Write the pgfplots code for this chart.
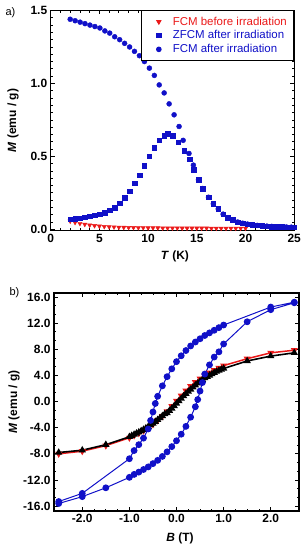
\documentclass[border=0pt]{standalone}
\usepackage{fontspec}
\setmainfont{Liberation Sans}
\usepackage{pgfplots}
\pgfplotsset{compat=1.18}
\definecolor{myblue}{RGB}{16,16,200}
\definecolor{myred}{RGB}{235,25,25}
\newcommand{\labfont}{\fontsize{12}{14}\selectfont\bfseries}
\pgfplotsset{
  common/.style={
    scale only axis,
    axis line style={line width=1.1pt},
    tick align=inside,
    major tick length=4bp,
    minor tick length=2.2bp,
    every tick/.style={black, line width=0.8pt},
    /pgf/number format/assume math mode=true,
    tick label style={font=\labfont},
  }
}
\begin{document}
\begin{tikzpicture}[x=1bp,y=1bp]
\path[use as bounding box] (0,0) rectangle (305,-550);
\node[anchor=west, font=\fontsize{11}{13}\selectfont] at (2,-13) {a)};
\node[anchor=west, font=\fontsize{11}{13}\selectfont] at (6,-293) {b)};
% ---------------- panel a
\begin{axis}[common,
  at={(50.7bp,-230.5bp)}, anchor=south west,
  width=243.5bp, height=220bp,
  xmin=0, xmax=25, ymin=-0.008, ymax=1.5,
  xtick={0,5,10,15,20,25}, ytick={0,0.5,1,1.5},
  minor x tick num=4, minor y tick num=9,
  xticklabel style={/pgf/number format/.cd, fixed, precision=0},
  yticklabel style={/pgf/number format/.cd, fixed, fixed zerofill, precision=1},
  xlabel={\textit{T} (K)}, ylabel={\textit{M} (emu / g)},
  every axis x label/.style={at={(axis description cs:0.51,-0.116)}, anchor=center, font=\labfont},
  every axis y label/.style={at={(axis description cs:-0.155,0.5)}, anchor=center, rotate=90, font=\labfont},
  legend style={at={(1,1)}, anchor=north east, draw=black, line width=0.8pt,
    font=\fontsize{11.5}{13}\selectfont, inner xsep=5bp, inner ysep=4bp,
    row sep=0bp},
  legend image code/.code={\draw[mark repeat=2,mark phase=2,#1,draw=none] plot coordinates {(0bp,0bp) (12bp,0bp) (24bp,0bp)};},
  legend cell align=left,
]
\addlegendimage{mark=triangle*, mark options={rotate=180, fill=myred, draw=myred}, mark size=2.5}
\addlegendentry{\textcolor{myred}{FCM before irradiation}}
\addlegendimage{mark=square*, mark options={fill=myblue, draw=myblue}, mark size=2.2}
\addlegendentry{\textcolor{myblue}{ZFCM after irradiation}}
\addlegendimage{mark=*, mark options={fill=myblue, draw=myblue}, mark size=2.4}
\addlegendentry{\textcolor{myblue}{FCM after irradiation}}
% FCM before irradiation
\addplot[forget plot, only marks, mark=triangle*, mark size=2.5, mark options={rotate=180, fill=myred, draw=myred}] table {
2.0 0.056
2.5 0.047
3.0 0.040
3.5 0.034
4.0 0.029
4.5 0.025
5.0 0.022
5.5 0.019
6.0 0.017
6.5 0.016
7.0 0.014
7.5 0.013
8.0 0.012
8.5 0.012
9.0 0.011
9.5 0.011
10.0 0.010
10.5 0.010
11.0 0.010
11.5 0.009
12.0 0.009
12.5 0.009
13.0 0.009
13.5 0.008
14.0 0.008
14.5 0.008
15.0 0.008
15.5 0.008
16.0 0.008
16.5 0.007
17.0 0.007
17.5 0.007
18.0 0.007
18.5 0.007
19.0 0.007
19.5 0.007
20.0 0.007
};
% FCM after irradiation
\addplot[forget plot, only marks, mark=*, mark size=2.5, mark options={fill=myblue, draw=myblue}] table {
2.00 1.440
2.51 1.430
3.02 1.420
3.52 1.410
4.03 1.400
4.54 1.390
5.05 1.380
5.56 1.360
6.06 1.345
6.57 1.320
7.08 1.300
7.59 1.275
8.10 1.250
8.60 1.220
9.11 1.190
9.62 1.150
10.13 1.105
10.64 1.055
11.14 0.990
11.65 0.935
12.16 0.860
12.67 0.785
13.18 0.705
13.60 0.610
14.20 0.520
14.65 0.440
15.17 0.340
15.60 0.280
16.20 0.220
16.70 0.175
17.20 0.140
17.70 0.104
18.20 0.080
18.70 0.065
19.20 0.050
19.70 0.042
20.20 0.036
20.70 0.031
21.20 0.027
21.70 0.024
22.20 0.022
22.70 0.020
23.20 0.018
23.70 0.017
24.20 0.016
24.70 0.015
};
% ZFCM after irradiation
\addplot[forget plot, only marks, mark=square*, mark size=2.3, mark options={fill=myblue, draw=myblue}] table {
2.00 0.069
2.51 0.072
3.02 0.076
3.52 0.083
4.03 0.090
4.54 0.097
5.05 0.104
5.56 0.115
6.06 0.132
6.57 0.150
7.08 0.180
7.59 0.215
8.10 0.260
8.60 0.315
9.11 0.370
9.62 0.435
10.13 0.500
10.64 0.560
11.14 0.610
11.65 0.640
12.00 0.655
12.55 0.643
13.07 0.597
13.70 0.540
14.27 0.480
14.70 0.410
15.17 0.340
15.60 0.280
16.20 0.220
16.70 0.175
17.20 0.140
17.70 0.104
18.20 0.080
18.70 0.065
19.20 0.050
19.70 0.042
20.20 0.036
20.70 0.031
21.20 0.027
21.70 0.024
22.20 0.022
22.70 0.020
23.20 0.018
23.70 0.017
24.20 0.016
24.70 0.015
25.00 0.014
};
\end{axis}
% ---------------- panel b
\begin{axis}[common,
  at={(54bp,-511bp)}, anchor=south west,
  width=245bp, height=218bp,
  xmin=-2.6, xmax=2.6, ymin=-16.75, ymax=16.6,
  xtick={-2,-1,0,1,2}, ytick={-16,-12,-8,-4,0,4,8,12,16},
  minor x tick num=3, minor y tick num=2,
  xticklabel style={/pgf/number format/.cd, fixed, fixed zerofill, precision=1},
  yticklabel style={/pgf/number format/.cd, fixed, fixed zerofill, precision=1},
  xlabel={\textit{B} (T)}, ylabel={\textit{M} (emu / g)},
  every axis x label/.style={at={(axis description cs:0.514,-0.124)}, anchor=center, font=\labfont},
  every axis y label/.style={at={(axis description cs:-0.163,0.5)}, anchor=center, rotate=90, font=\labfont},
]
% before irradiation (red)
\addplot[myred, line width=1.5pt, mark=triangle*, mark size=2.6, mark options={rotate=180, fill=myred, draw=myred, solid}] table {
-2.5 -8.00
-2.0 -7.60
-1.5 -6.75
-1.0 -5.55
-0.9 -5.20
-0.8 -4.85
-0.7 -4.45
-0.6 -4.00
-0.5 -3.50
-0.4 -2.90
-0.3 -2.25
-0.2 -1.50
-0.1 -0.70
0.0 0.10
0.1 0.90
0.2 1.65
0.3 2.35
0.4 2.95
0.5 3.50
0.6 3.95
0.7 4.40
0.8 4.80
0.9 5.15
1.0 5.50
1.5 6.55
2.0 7.45
2.5 7.85
};
% black
\addplot[black, line width=1.6pt, mark=triangle*, mark size=2.7, mark options={fill=black, draw=black, solid}] table {
-2.5 -7.80
-2.0 -7.45
-1.5 -6.60
-1.0 -5.40
-0.95 -5.22
-0.9 -5.05
-0.85 -4.88
-0.8 -4.70
-0.75 -4.50
-0.7 -4.30
-0.65 -4.08
-0.6 -3.85
-0.55 -3.60
-0.5 -3.35
-0.45 -3.08
-0.4 -2.80
-0.35 -2.50
-0.3 -2.20
-0.25 -1.90
-0.2 -1.75
-0.15 -1.40
-0.1 -1.05
-0.05 -0.68
0.0 -0.30
0.05 0.08
0.1 0.45
0.15 0.83
0.2 1.20
0.25 1.53
0.3 1.85
0.35 2.18
0.4 2.50
0.45 2.80
0.5 3.10
0.55 3.35
0.6 3.60
0.65 3.80
0.7 4.00
0.75 4.20
0.8 4.40
0.85 4.58
0.9 4.75
0.95 4.90
1.0 5.05
1.5 6.20
2.0 6.95
2.5 7.45
};
% after irradiation (blue loop)
\addplot[myblue, line width=1pt, mark=*, mark size=2.9, mark options={fill=myblue, draw=myblue}] table {
2.5 15.20
2.0 14.45
1.0 11.70
0.9 11.30
0.8 10.90
0.7 10.50
0.6 10.10
0.5 9.60
0.4 9.10
0.3 8.50
0.2 7.80
0.1 7.00
0.0 6.10
-0.1 5.00
-0.2 3.80
-0.3 2.40
-0.4 0.80
-0.45 -0.30
-0.5 -1.60
-0.55 -2.90
-0.6 -4.20
-0.7 -5.60
-0.8 -6.60
-0.9 -7.50
-1.0 -8.75
-2.0 -14.05
-2.5 -15.30
-2.5 -15.60
-2.0 -14.55
-1.5 -13.20
-1.0 -11.60
-0.9 -11.15
-0.8 -10.80
-0.7 -10.40
-0.6 -10.00
-0.5 -9.50
-0.4 -9.00
-0.3 -8.40
-0.2 -7.70
-0.1 -6.90
0.0 -6.00
0.1 -5.00
0.2 -3.80
0.3 -2.40
0.4 -0.80
0.45 0.30
0.5 1.60
0.55 2.90
0.6 4.20
0.7 5.60
0.8 6.80
0.9 7.60
1.0 8.80
1.5 12.20
2.0 14.05
2.5 15.10
};
\end{axis}
\end{tikzpicture}
\end{document}
